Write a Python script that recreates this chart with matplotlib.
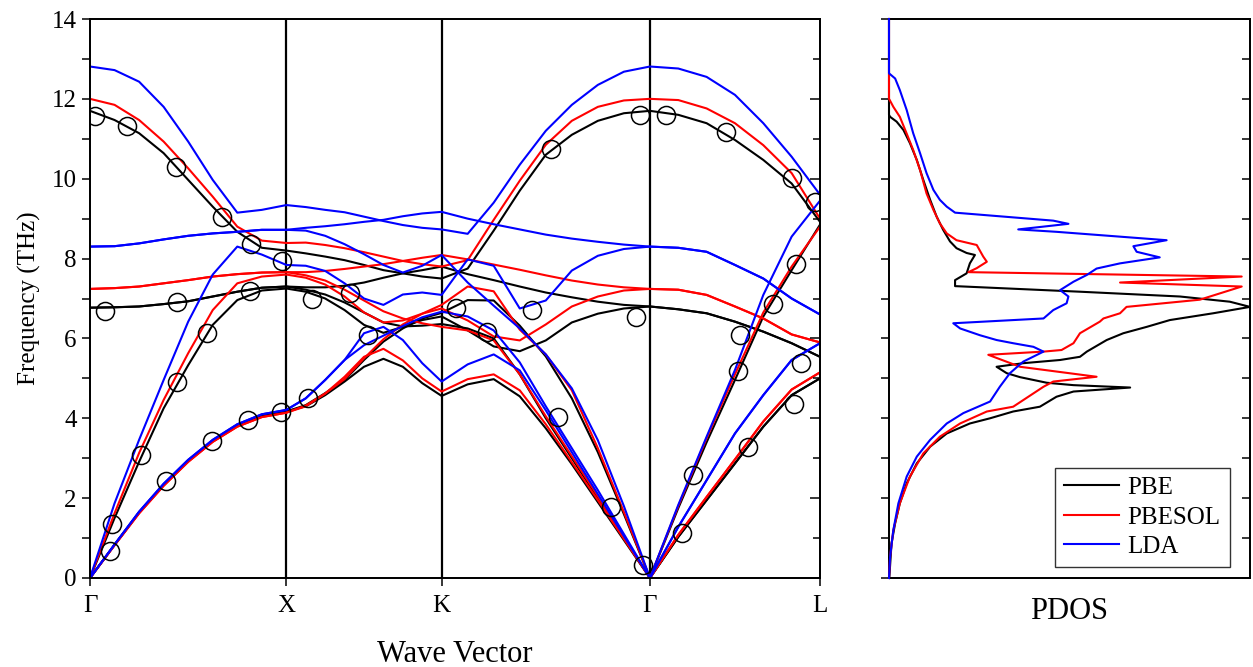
import numpy as np
import matplotlib
matplotlib.use("Agg")
import matplotlib.pyplot as plt
from matplotlib.ticker import MultipleLocator

plt.rcParams['font.family'] = ['Liberation Serif', 'DejaVu Serif']

# path through the Brillouin zone (units of 2pi/a)
sym_labels = ['Γ', 'X', 'K', 'Γ', 'L']
sym_k = [0.0, 1.0, 1.7906, 2.8513, 3.7173]
seg_samples = [9, 9, 9, 7]

pbe_b6 = [11.70, 11.47, 11.14, 10.64, 9.97, 9.30, 8.67, 8.27, 8.20,
          8.13, 8.05, 7.96, 7.84, 7.71, 7.63, 7.55, 7.50,
          7.75, 8.70, 9.70, 10.60, 11.10, 11.45, 11.64, 11.70,
          11.60, 11.39, 10.97, 10.47, 9.88, 8.92]
pbe_b5 = [6.77, 6.78, 6.80, 6.86, 6.93, 7.05, 7.17, 7.27, 7.30,
          7.28, 7.28, 7.32, 7.40, 7.52, 7.63, 7.71, 7.80,
          7.61, 7.46, 7.30, 7.15, 7.03, 6.92, 6.84, 6.80,
          6.73, 6.63, 6.42, 6.17, 5.88, 5.54]
pbe_b4 = [6.77, 6.78, 6.80, 6.86, 6.93, 7.05, 7.17, 7.27, 7.30,
          7.22, 7.10, 6.90, 6.65, 6.40, 6.30, 6.32, 6.36,
          6.25, 6.00, 5.10, 4.00, 3.00, 2.00, 1.00, 0.00,
          1.03, 1.95, 2.87, 3.79, 4.58, 5.00]
pbe_b3 = [0.00, 1.50, 2.91, 4.25, 5.33, 6.34, 6.96, 7.20, 7.25,
          7.17, 7.00, 6.71, 6.34, 6.14, 6.29, 6.46, 6.55,
          6.20, 5.80, 5.68, 5.95, 6.40, 6.62, 6.75, 6.80,
          6.73, 6.63, 6.42, 6.17, 5.88, 5.54]
pbe_b2 = [0.00, 0.83, 1.64, 2.33, 2.93, 3.43, 3.81, 4.06, 4.17,
          4.33, 4.63, 4.96, 5.46, 5.92, 6.25, 6.50, 6.64,
          6.96, 6.95, 6.32, 5.55, 4.50, 3.15, 1.60, 0.00,
          1.75, 3.40, 4.96, 6.55, 7.71, 8.85]
pbe_b1 = [0.00, 0.83, 1.64, 2.33, 2.93, 3.43, 3.81, 4.06, 4.17,
          4.30, 4.58, 4.92, 5.29, 5.49, 5.29, 4.88, 4.56,
          4.85, 4.98, 4.55, 3.75, 2.85, 1.90, 0.95, 0.00,
          1.03, 1.95, 2.87, 3.79, 4.58, 5.00]

pbesol_b6 = [12.00, 11.85, 11.47, 10.93, 10.26, 9.55, 8.80, 8.45, 8.39,
             8.40, 8.34, 8.26, 8.16, 8.05, 7.94, 7.86, 7.80,
             7.96, 8.97, 9.95, 10.85, 11.45, 11.80, 11.96, 12.00,
             11.97, 11.76, 11.39, 10.84, 10.14, 9.00]
pbesol_b5 = [7.24, 7.26, 7.30, 7.38, 7.46, 7.55, 7.61, 7.65, 7.66,
             7.66, 7.69, 7.74, 7.80, 7.86, 7.94, 8.02, 8.09,
             7.98, 7.85, 7.72, 7.58, 7.45, 7.35, 7.28, 7.24,
             7.22, 7.09, 6.80, 6.50, 6.10, 5.90]
pbesol_b4 = [7.24, 7.26, 7.30, 7.38, 7.46, 7.55, 7.61, 7.65, 7.66,
             7.58, 7.45, 7.22, 6.95, 6.68, 6.50, 6.38, 6.29,
             6.20, 5.95, 5.10, 4.05, 3.05, 2.05, 1.02, 0.00,
             1.08, 2.03, 2.97, 3.92, 4.72, 5.15]
pbesol_b3 = [0.00, 1.62, 3.13, 4.46, 5.63, 6.71, 7.38, 7.55, 7.60,
             7.52, 7.35, 7.05, 6.65, 6.40, 6.45, 6.62, 6.75,
             6.45, 6.05, 5.95, 6.35, 6.80, 7.05, 7.20, 7.24,
             7.22, 7.09, 6.80, 6.50, 6.10, 5.90]
pbesol_b2 = [0.00, 0.82, 1.62, 2.31, 2.91, 3.41, 3.79, 4.03, 4.14,
             4.30, 4.62, 4.98, 5.50, 5.98, 6.35, 6.62, 6.84,
             7.30, 7.18, 6.22, 5.60, 4.70, 3.25, 1.65, 0.00,
             1.80, 3.50, 5.10, 6.65, 7.80, 8.80]
pbesol_b1 = [0.00, 0.82, 1.62, 2.31, 2.91, 3.41, 3.79, 4.03, 4.14,
             4.32, 4.62, 5.04, 5.54, 5.74, 5.45, 5.00, 4.67,
             4.98, 5.10, 4.70, 3.85, 2.90, 1.95, 0.98, 0.00,
             1.08, 2.03, 2.97, 3.92, 4.72, 5.15]

lda_b6 = [12.81, 12.72, 12.43, 11.80, 10.93, 9.97, 9.15, 9.22, 9.34,
          9.29, 9.22, 9.16, 9.05, 8.94, 8.84, 8.77, 8.73,
          8.62, 9.40, 10.35, 11.20, 11.85, 12.35, 12.68, 12.81,
          12.76, 12.55, 12.10, 11.39, 10.55, 9.60]
lda_b5 = [8.30, 8.31, 8.38, 8.48, 8.57, 8.63, 8.67, 8.72, 8.72,
          8.77, 8.81, 8.86, 8.92, 8.97, 9.06, 9.13, 9.17,
          9.00, 8.86, 8.73, 8.60, 8.50, 8.42, 8.35, 8.30,
          8.27, 8.17, 7.84, 7.50, 7.00, 6.60]
lda_b4 = [8.30, 8.31, 8.38, 8.48, 8.57, 8.63, 8.67, 8.72, 8.72,
          8.70, 8.57, 8.36, 8.11, 7.84, 7.65, 7.82, 8.09,
          7.40, 6.82, 6.25, 5.60, 4.75, 3.45, 1.80, 0.00,
          1.83, 3.54, 5.21, 7.09, 8.55, 9.45]
lda_b3 = [0.00, 1.87, 3.46, 4.96, 6.42, 7.60, 8.30, 8.10, 7.84,
          7.82, 7.69, 7.38, 7.00, 6.84, 7.10, 7.15, 7.09,
          7.98, 7.82, 6.75, 6.95, 7.70, 8.07, 8.24, 8.30,
          8.27, 8.17, 7.84, 7.50, 7.00, 6.60]
lda_b2 = [0.00, 0.84, 1.66, 2.36, 2.96, 3.46, 3.85, 4.10, 4.21,
          4.50, 4.96, 5.46, 5.83, 6.07, 6.31, 6.53, 6.67,
          6.55, 6.20, 5.40, 4.30, 3.25, 2.20, 1.10, 0.00,
          1.28, 2.45, 3.62, 4.58, 5.46, 5.88]
lda_b1 = [0.00, 0.84, 1.66, 2.36, 2.96, 3.46, 3.85, 4.10, 4.21,
          4.50, 4.96, 5.46, 6.13, 6.29, 5.96, 5.38, 4.92,
          5.35, 5.60, 5.20, 4.20, 3.15, 2.10, 1.05, 0.00,
          1.28, 2.45, 3.62, 4.58, 5.46, 5.88]

# experimental points (circles)
exp_k = [0.025, 0.188, 0.438, 0.672, 0.820, 0.978, 0.076, 0.443, 0.815,
         0.112, 0.102, 0.260, 0.443, 0.596, 0.387, 0.621, 0.805, 0.973,
         1.109, 1.129, 1.324, 1.414,
         1.864, 2.023, 2.252, 2.385, 2.347, 2.653, 2.816, 2.780, 2.800,
         2.933, 3.238, 3.573, 3.692, 3.595, 3.476, 3.310, 3.301, 3.619,
         3.586, 3.351, 3.069, 3.013]
exp_f = [11.57, 11.32, 10.30, 9.05, 8.37, 7.95, 6.69, 6.92, 7.19,
         1.35, 0.68, 3.08, 4.91, 6.14, 2.43, 3.43, 3.96, 4.16,
         4.50, 7.00, 7.14, 6.09,
         6.75, 6.17, 6.71, 4.04, 10.75, 1.78, 0.33, 6.54, 11.60,
         11.60, 11.16, 10.01, 9.42, 7.86, 6.86, 6.09, 5.18, 5.38,
         4.37, 3.28, 2.58, 1.13]

# phonon density of states (frequency, dos in arbitrary units)
pbe_dos_f = [14.0, 11.60, 11.55, 11.43, 11.22, 10.89, 10.47, 9.97, 9.47, 9.05, 8.72,
             8.43, 8.26, 8.14, 8.09, 7.88, 7.63, 7.46, 7.31, 7.17, 7.05, 6.92,
             6.79, 6.63, 6.46, 6.29, 6.13, 5.96, 5.67, 5.54, 5.46, 5.38, 5.29,
             5.13, 5.03, 4.89, 4.83, 4.77, 4.67, 4.54, 4.29, 4.17, 4.00, 3.87,
             3.62, 3.29, 2.87, 2.37, 1.87, 1.37, 0.87, 0.03, 0.0]
pbe_dos = [0.0, 0.0, 0.003, 0.021, 0.040, 0.058, 0.077, 0.095, 0.114, 0.132, 0.150,
           0.169, 0.187, 0.215, 0.238, 0.224, 0.215, 0.183, 0.183, 0.529, 0.806, 0.944,
           1.0, 0.898, 0.778, 0.714, 0.649, 0.603, 0.548, 0.529, 0.474, 0.372, 0.298,
           0.326, 0.363, 0.437, 0.511, 0.668, 0.511, 0.464, 0.418, 0.344, 0.280, 0.224,
           0.160, 0.114, 0.077, 0.049, 0.030, 0.017, 0.007, 0.001, 0.0]
pbesol_dos_f = [14.0, 12.00, 11.97, 11.80, 11.55, 11.13, 10.72, 10.22, 9.63, 9.22, 8.88,
                8.63, 8.46, 8.34, 8.05, 7.92, 7.76, 7.66, 7.55, 7.40, 7.30, 6.97,
                6.79, 6.63, 6.50, 6.42, 6.13, 5.88, 5.71, 5.67, 5.59, 5.29, 5.04,
                4.92, 4.79, 4.29, 4.17, 3.87, 3.54, 3.12, 2.54, 1.87, 1.20, 0.53, 0.0]
pbesol_dos = [0.0, 0.0, 0.002, 0.012, 0.030, 0.049, 0.067, 0.086, 0.104, 0.123, 0.141,
              0.160, 0.187, 0.243, 0.261, 0.271, 0.243, 0.220, 0.977, 0.640, 0.977, 0.861,
              0.658, 0.640, 0.594, 0.584, 0.529, 0.511, 0.478, 0.428, 0.275, 0.363, 0.575,
              0.455, 0.428, 0.344, 0.271, 0.197, 0.141, 0.095, 0.058, 0.030, 0.012, 0.003, 0.0]
lda_dos_f = [14.0, 12.64, 12.51, 12.22, 11.72, 11.14, 10.64, 10.14, 9.72, 9.47, 9.30,
             9.15, 8.95, 8.87, 8.73, 8.67, 8.46, 8.31, 8.17, 8.03, 7.88, 7.75,
             7.59, 7.42, 7.21, 7.05, 6.88, 6.71, 6.50, 6.38, 6.25, 6.08, 5.96,
             5.88, 5.79, 5.67, 5.42, 5.13, 4.79, 4.42, 4.13, 3.87, 3.46, 3.04,
             2.54, 1.87, 1.20, 0.53, 0.0]
lda_dos = [0.0, 0.0, 0.017, 0.030, 0.049, 0.067, 0.086, 0.104, 0.123, 0.141, 0.160,
           0.183, 0.455, 0.497, 0.358, 0.464, 0.769, 0.677, 0.686, 0.750, 0.640, 0.575,
           0.548, 0.511, 0.474, 0.497, 0.492, 0.455, 0.428, 0.178, 0.197, 0.252, 0.298,
           0.344, 0.400, 0.428, 0.372, 0.335, 0.307, 0.280, 0.206, 0.160, 0.114, 0.077,
           0.049, 0.026, 0.012, 0.003, 0.0]

methods = ['PBE', 'PBESOL', 'LDA']
colors = ['black', 'red', 'blue']
bands = [[pbe_b1, pbe_b2, pbe_b3, pbe_b4, pbe_b5, pbe_b6],
         [pbesol_b1, pbesol_b2, pbesol_b3, pbesol_b4, pbesol_b5, pbesol_b6],
         [lda_b1, lda_b2, lda_b3, lda_b4, lda_b5, lda_b6]]
dos_f = [pbe_dos_f, pbesol_dos_f, lda_dos_f]
dos = [pbe_dos, pbesol_dos, lda_dos]

# k grid for the sampled branches
k_grid = [sym_k[0]]
for i, n in enumerate(seg_samples):
    k_grid += list(np.linspace(sym_k[i], sym_k[i + 1], n)[1:])
k_grid = np.array(k_grid)

W, H = 1253, 667
fig = plt.figure(figsize=(W / 100, H / 100), dpi=100)
ax1 = fig.add_axes([90 / W, 89 / H, 730 / W, 559 / H])
ax2 = fig.add_axes([889 / W, 89 / H, 361 / W, 559 / H])

lw = 1.5
for m, c, bb in zip(methods, colors, bands):
    for b in bb:
        ax1.plot(k_grid, b, color=c, lw=lw, zorder=3)
ax1.plot(exp_k, exp_f, 'o', mfc='none', mec='black', ms=13, mew=1.1, zorder=4)

for k in sym_k[1:-1]:
    ax1.axvline(k, color='black', lw=1.6, zorder=2)

ax1.set_xlim(sym_k[0], sym_k[-1])
ax1.set_ylim(0, 14)
ax1.set_xticks(sym_k)
ax1.set_xticklabels(sym_labels)
ax1.yaxis.set_major_locator(MultipleLocator(2))
ax1.yaxis.set_minor_locator(MultipleLocator(1))
ax1.tick_params(axis='y', which='both', direction='out', right=False, labelsize=18, length=6, width=1.1)
ax1.tick_params(axis='x', direction='out', top=False, labelsize=18, length=6, width=1.1, pad=6)
ax1.set_ylabel('Frequency (THz)', fontsize=18, labelpad=8)
ax1.set_xlabel('Wave Vector', fontsize=22, labelpad=17)

# inward ticks on the right side
ax1r = ax1.twinx()
ax1r.set_ylim(0, 14)
ax1r.yaxis.set_major_locator(MultipleLocator(2))
ax1r.yaxis.set_minor_locator(MultipleLocator(1))
ax1r.tick_params(axis='y', which='major', direction='in', length=7, width=1.1, labelright=False)
ax1r.tick_params(axis='y', which='minor', direction='in', length=5, width=1.1)

for m, c, f, d in zip(methods, colors, dos_f, dos):
    ax2.plot(d, f, color=c, lw=lw, label=m, zorder=3, clip_on=False)
ax2.set_xlim(0, 1.0)
ax2.set_ylim(0, 14)
ax2.set_xticks([])
ax2.yaxis.set_major_locator(MultipleLocator(2))
ax2.yaxis.set_minor_locator(MultipleLocator(1))
ax2.tick_params(axis='y', which='both', direction='out', labelleft=False, length=6, width=1.1)
ax2.set_xlabel('PDOS', fontsize=22, labelpad=14)
ax2r = ax2.twinx()
ax2r.set_ylim(0, 14)
ax2r.yaxis.set_major_locator(MultipleLocator(2))
ax2r.yaxis.set_minor_locator(MultipleLocator(1))
ax2r.tick_params(axis='y', which='both', direction='in', length=6, width=1.1, labelright=False)

leg = ax2.legend(loc='center', bbox_to_anchor=(0.46, 0.02, 0.485, 0.177), mode='expand',
                 borderaxespad=0, fontsize=18, frameon=True, fancybox=False,
                 edgecolor='#333333', framealpha=1, handlelength=2.2,
                 handletextpad=0.35, borderpad=0.35, labelspacing=0.28)
leg.get_frame().set_linewidth(1.0)
leg.set_zorder(5)
ax2.set_zorder(ax2r.get_zorder() + 1)
ax2.patch.set_visible(False)

for ax in (ax1, ax2, ax1r, ax2r):
    for s in ax.spines.values():
        s.set_linewidth(1.3)

fig.savefig('out.png', dpi=100)
